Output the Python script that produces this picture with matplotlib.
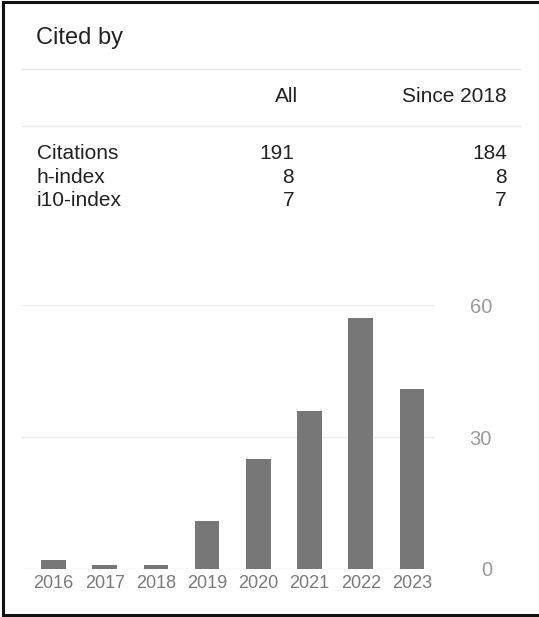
import matplotlib
matplotlib.use('Agg')
import matplotlib.pyplot as plt
from matplotlib.lines import Line2D

plt.rcParams['font.family'] = ['Liberation Sans', 'DejaVu Sans']

# data
years = ['2016', '2017', '2018', '2019', '2020', '2021', '2022', '2023']
cites = [2, 1, 1, 11, 25, 36, 57, 41]
row_labels = ['Citations', 'h-index', 'i10-index']
col_labels = ['All', 'Since 2018']
all_vals = ['191', '8', '7']
since_vals = ['184', '8', '7']
yticks = [0, 30, 60]

W, H = 539, 617
fig = plt.figure(figsize=(W / 100, H / 100), dpi=100)
fig.patch.set_facecolor('white')


def fx(px):
    return px / W


def fy(py):
    return 1 - py / H


text_col = '#222222'
line_col = '#e6e6e6'

# frame (left, top, bottom edges visible)
fig.add_artist(Line2D([fx(3), fx(3)], [fy(2), fy(615)], color='#111111', lw=2.2))
fig.add_artist(Line2D([fx(3), 1], [fy(2), fy(2)], color='#111111', lw=2.2))
fig.add_artist(Line2D([fx(3), 1], [fy(615), fy(615)], color='#111111', lw=2.2))

# header block
fig.text(fx(36), fy(38), 'Cited by', fontsize=17, color=text_col, va='center', ha='left')
fig.add_artist(Line2D([fx(22), fx(520)], [fy(69), fy(69)], color=line_col, lw=1))
fig.text(fx(298), fy(97), col_labels[0], fontsize=15, color=text_col, va='center', ha='right')
fig.text(fx(507), fy(97), col_labels[1], fontsize=15, color=text_col, va='center', ha='right')
fig.add_artist(Line2D([fx(22), fx(520)], [fy(126), fy(126)], color=line_col, lw=1))

row_y = [154, 178, 201]
for lab, a, s, y in zip(row_labels, all_vals, since_vals, row_y):
    fig.text(fx(37), fy(y), lab, fontsize=15, color=text_col, va='center', ha='left')
    fig.text(fx(294), fy(y), a, fontsize=15, color=text_col, va='center', ha='right')
    fig.text(fx(507), fy(y), s, fontsize=15, color=text_col, va='center', ha='right')

# bar chart
ax_l, ax_r, ax_t, ax_b = 22, 435, 305, 569
ax = fig.add_axes([fx(ax_l), fy(ax_b), (ax_r - ax_l) / W, (ax_b - ax_t) / H])
x = list(range(len(years)))
ax.bar(x, cites, width=0.48, color='#777777', zorder=3)
ax.set_xlim(-0.615, len(years) - 1 + 0.45)
ax.set_ylim(0, 60)
for t in yticks:
    ax.axhline(t, color='#eeeeee', lw=1, zorder=1)
for sp in ax.spines.values():
    sp.set_visible(False)
ax.set_xticks(x)
ax.set_xticklabels(years)
ax.set_yticks(yticks)
ax.yaxis.tick_right()
ax.tick_params(axis='x', length=0, pad=4, labelsize=13, labelcolor='#7a7a7a')
ax.tick_params(axis='y', length=0, pad=41, labelsize=14.5, labelcolor='#9a9a9a')
for lbl in ax.get_yticklabels():
    lbl.set_horizontalalignment('right')

fig.savefig('out.png', dpi=100)
